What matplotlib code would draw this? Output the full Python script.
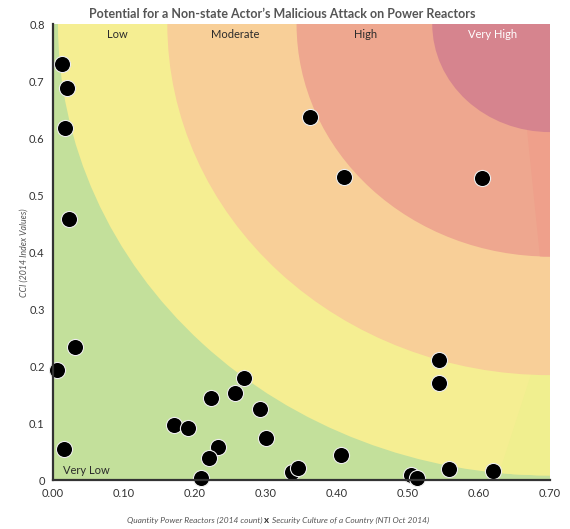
"""Potential for a non-state actor's malicious attack on power reactors."""
import matplotlib
matplotlib.use("Agg")
import matplotlib.pyplot as plt
from matplotlib.patches import Circle, Polygon

# reactor quantity x security culture vs. CCI index, one point per country
reactor_score = [0.013, 0.020, 0.017, 0.0225, 0.031, 0.005, 0.0155,
                 0.269, 0.257, 0.222, 0.291, 0.171, 0.190, 0.300, 0.233,
                 0.220, 0.208, 0.336, 0.345, 0.405,
                 0.543, 0.543, 0.504, 0.512, 0.557, 0.619,
                 0.362, 0.410, 0.604]
cci_value = [0.730, 0.688, 0.618, 0.458, 0.234, 0.193, 0.055,
             0.179, 0.153, 0.144, 0.124, 0.096, 0.092, 0.073, 0.058,
             0.038, 0.003, 0.0135, 0.0205, 0.044,
             0.210, 0.170, 0.009, 0.0035, 0.019, 0.016,
             0.636, 0.531, 0.529]

# risk bands: radius (fraction of axes, measured from top-right corner) and colour
band_names = ["Low", "Moderate", "High", "Very High"]
band_radius = [0.99, 0.77, 0.51, 0.237]
band_colors = ["#f5ee92", "#f8cf98", "#eea78f", "#d6848e"]
base_color = "#c3e09b"

x_ticks = [0.0, 0.1, 0.2, 0.3, 0.4, 0.5, 0.6, 0.7]
y_ticks = [0.0, 0.1, 0.2, 0.3, 0.4, 0.5, 0.6, 0.7, 0.8]

plt.rcParams["font.family"] = ["Lato", "DejaVu Sans"]

fig = plt.figure(figsize=(5.7, 5.29), dpi=100)
ax = fig.add_axes([0.093, 0.0926, 0.872, 0.862])
ax.set_facecolor(base_color)

bands = []
for i, (r, c) in enumerate(zip(band_radius, band_colors)):
    circ = Circle((1, 1), r, transform=ax.transAxes, facecolor=c,
                  edgecolor="none", zorder=i * 0.2)
    ax.add_patch(circ)
    bands.append(circ)

# faint shading slivers from the original gradient mesh
sliver_low = Polygon([(0.982, 0.3), (0.893, 0.0), (1, 0), (1, 0.3)],
                     transform=ax.transAxes, facecolor="#f0ef8f",
                     edgecolor="none", zorder=0.1)
ax.add_patch(sliver_low)
sliver_low.set_clip_path(bands[0])
sliver_high = Polygon([(0.946, 0.85), (0.988, 0.40), (1, 0.40), (1, 0.85)],
                      transform=ax.transAxes, facecolor="#efa08b",
                      edgecolor="none", zorder=0.5)
ax.add_patch(sliver_high)
sliver_high.set_clip_path(bands[2])

ax.scatter(reactor_score, cci_value, s=135, color="black",
           edgecolor="#eeeeee", linewidth=0.8, zorder=3, clip_on=False)

ax.set_xlim(0, 0.7)
ax.set_ylim(0, 0.8)
ax.set_xticks(x_ticks)
ax.set_xticklabels([f"{v:.2f}" for v in x_ticks])
ax.set_yticks(y_ticks)
ax.set_yticklabels(["0"] + [f"{v:.1f}" for v in y_ticks[1:]])
ax.tick_params(length=0, labelsize=8, labelcolor="#333333", pad=6)
for side in ("top", "right"):
    ax.spines[side].set_visible(False)
for side in ("left", "bottom"):
    ax.spines[side].set_color("#333333")
    ax.spines[side].set_linewidth(1.6)
    ax.spines[side].set_zorder(4)

# band labels along the top edge
label_x = [0.13, 0.367, 0.628, 0.885]
for name, lx in zip(band_names, label_x):
    ax.text(lx, 0.976, name, transform=ax.transAxes, ha="center", va="center",
            fontsize=8, color="white" if name == "Very High" else "#2b2b2b")
ax.text(0.02, 0.008, "Very Low", transform=ax.transAxes, ha="left",
        va="bottom", fontsize=8, color="#2b2b2b")

fig.text(0.495, 0.974, "Potential for a Non-state Actor\u2019s Malicious Attack on Power Reactors",
         ha="center", va="center", fontsize=9, fontweight="bold", color="#555555")
fig.text(0.043, 0.522, "CCI (2014 Index Values)", rotation=90, ha="center",
         va="center", fontsize=6.3, style="italic", color="#555555")
fig.text(0.461, 0.017, "Quantity Power Reactors (2014 count)", ha="right",
         va="center", fontsize=6, style="italic", color="#555555")
fig.text(0.468, 0.017, "x", ha="center", va="center", fontsize=7,
         fontweight="bold", color="#333333")
fig.text(0.477, 0.017, "Security Culture of a Country (NTI Oct 2014)", ha="left",
         va="center", fontsize=6, style="italic", color="#555555")

fig.savefig("out.png", dpi=100)
